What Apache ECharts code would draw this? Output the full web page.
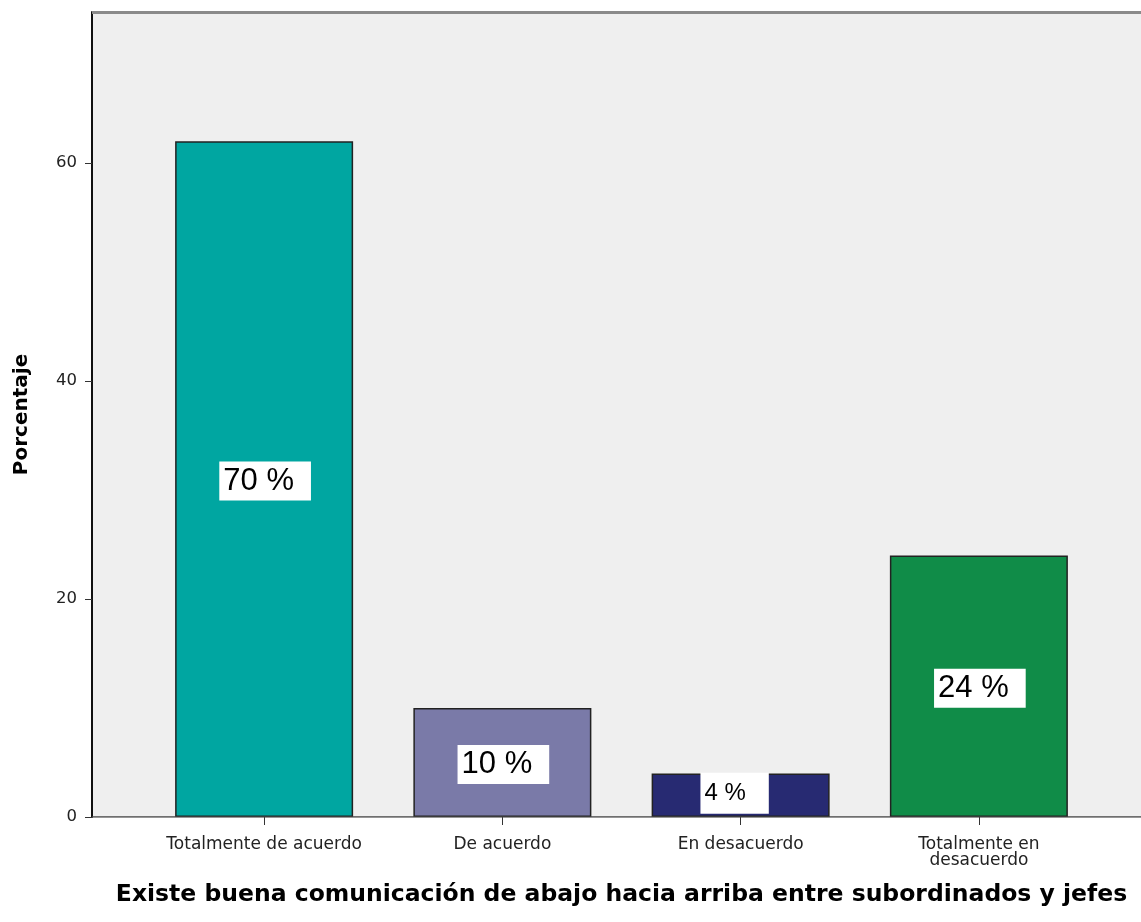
<!DOCTYPE html>
<html><head><meta charset="utf-8">
<script src="https://cdn.jsdelivr.net/npm/echarts@6/dist/echarts.min.js"></script>
<style>html,body{margin:0;padding:0;background:#fff}#c{width:1141px;height:922px}</style>
</head><body><div id="c"></div>
<script>
const categories = ['Totalmente de acuerdo', 'De acuerdo', 'En desacuerdo', 'Totalmente en\ndesacuerdo'];
const values = [62, 10, 4, 24];
const labels = ['70 %', '10 %', '4 %', '24 %'];
const colors = ['#00A6A1', '#7A7AA8', '#272A72', '#108C48'];
const yTicks = [0, 20, 40, 60];
const FONT = 'Arial, "Liberation Sans", sans-serif';
const WIDE = '"DejaVu Sans", sans-serif';
const YMAX = 73.85;

const chart = echarts.init(document.getElementById('c'));
chart.setOption({
  animation: false,
  textStyle: {fontFamily: FONT},
  grid: [
    {left: 92, right: 0, top: 12, bottom: 105, show: true, backgroundColor: '#EFEFEF', borderWidth: 0, outerBoundsMode: 'none', containLabel: false},
    {left: 145, right: 43, top: 12, bottom: 105, outerBoundsMode: 'none', containLabel: false}
  ],
  graphic: [{type: 'line', shape: {x1: 92, y1: 12.5, x2: 1141, y2: 12.5}, style: {stroke: '#8a8a8a', lineWidth: 3}, z: 10}],
  xAxis: [
    {gridIndex: 0, type: 'value', min: 0, max: 1, show: false},
    {gridIndex: 1, type: 'category', data: categories,
     axisLine: {show: false},
     axisTick: {show: true, alignWithLabel: true, interval: 0, length: 8, lineStyle: {color: '#333'}},
     axisLabel: {color: '#222', fontSize: 17, lineHeight: 16, margin: 20, interval: 0, hideOverlap: false, fontFamily: WIDE},
     name: 'Existe buena comunicación de abajo hacia arriba entre subordinados y jefes',
     nameLocation: 'middle', nameGap: 66,
     nameTextStyle: {fontSize: 23.5, fontWeight: 'bold', color: '#000', fontFamily: WIDE}
    }
  ],
  yAxis: [
    {gridIndex: 0, type: 'value', min: 0, max: YMAX, interval: 20,
     axisLine: {show: true, lineStyle: {color: '#111', width: 2}},
     axisTick: {show: true, length: 7, customValues: yTicks, lineStyle: {color: '#333'}},
     axisLabel: {color: '#222', fontSize: 16.5, margin: 15, fontFamily: WIDE, customValues: yTicks},
     splitLine: {show: false},
     name: 'Porcentaje', nameLocation: 'middle', nameGap: 60, nameRotate: 90,
     nameTextStyle: {fontSize: 20, fontWeight: 'bold', color: '#000', fontFamily: WIDE}
    },
    {gridIndex: 1, type: 'value', min: 0, max: YMAX, interval: 20, show: false, splitLine: {show: false}}
  ],
  series: [
    {type: 'line', xAxisIndex: 0, yAxisIndex: 0, data: [[0, 0], [1, 0]], symbol: 'none',
     lineStyle: {color: '#444', width: 1.5}, z: 5, silent: true},
    {type: 'bar', xAxisIndex: 1, yAxisIndex: 1, barWidth: 178,
     data: values.map((v, i) => ({value: v, itemStyle: {color: colors[i]},
       label: i === 2 ? {fontSize: 24, padding: [9, 23, 8, 4], offset: [-6, -2]} : {}})),
     itemStyle: {borderColor: '#222', borderWidth: 1.5},
     label: {show: true, position: 'inside',
       formatter: p => labels[p.dataIndex],
       color: '#000', fontSize: 31, fontFamily: FONT,
       backgroundColor: '#fff', padding: [4, 17, 4, 4], offset: [1, 2]
     }
    }
  ]
});
</script>
</body></html>
